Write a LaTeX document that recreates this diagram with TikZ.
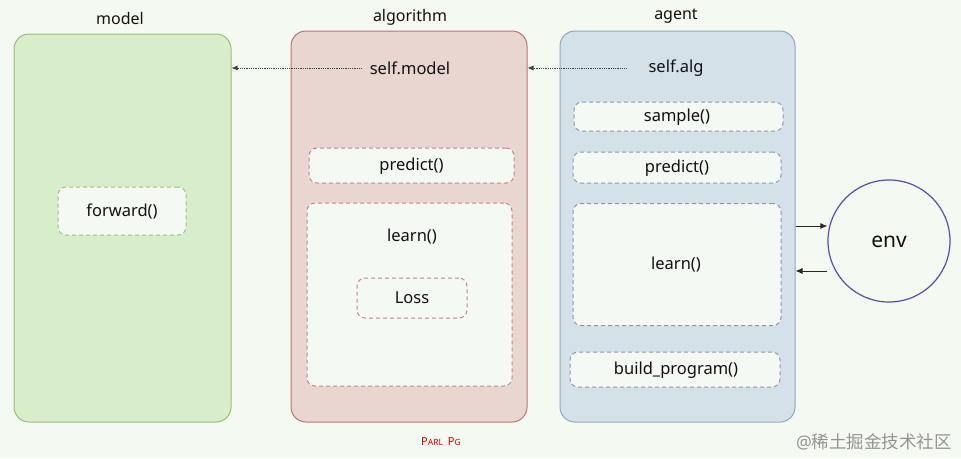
\documentclass[tikz,border=0pt]{standalone}
\usepackage{fontspec}
\setmainfont{Noto Sans}
\newfontfamily\cjkfont{Noto Sans CJK SC}
\usetikzlibrary{arrows.meta}
\definecolor{bgc}{HTML}{F4F9F1}
\definecolor{gfill}{HTML}{D8EECB}
\definecolor{gdraw}{HTML}{9DBB7A}
\definecolor{rfill}{HTML}{EAD6D1}
\definecolor{rdraw}{HTML}{B9737A}
\definecolor{bfill}{HTML}{D5E1E9}
\definecolor{bdraw}{HTML}{8FA8C2}
\definecolor{ifill}{HTML}{F5F9F3}
\definecolor{gdash}{HTML}{9CC08A}
\definecolor{rdash}{HTML}{C9838A}
\definecolor{bdash}{HTML}{8C99A8}
\definecolor{envc}{HTML}{5B4DB0}
\definecolor{txt}{HTML}{111111}
\tikzset{
  panel/.style={draw, line width=1pt, rounded corners=15pt, inner sep=0pt},
  inbox/.style={draw, dashed, dash pattern=on 4pt off 3pt, line width=1pt, fill=ifill, rounded corners=8pt, inner sep=0pt},
  lbl/.style={text=txt, font=\fontsize{16.5}{19}\selectfont, inner sep=0pt},
  ttl/.style={text=txt, font=\fontsize{16}{19}\selectfont, inner sep=0pt},
  dotarrow/.style={densely dotted, line width=0.8pt, draw=black!75, -{Latex[length=6pt,width=5pt]}},
  envarrow/.style={line width=0.9pt, draw=black!85, -{Latex[length=7pt,width=6pt]}}
}
\begin{document}
\begin{tikzpicture}[x=1pt,y=-1pt]
\fill[bgc] (0,0) rectangle (961,458);
\useasboundingbox (0,0) rectangle (961,458);

% panels
\node[panel, fill=gfill, draw=gdraw, minimum width=217pt, minimum height=388pt] (model) at (122.5,228) {};
\node[panel, fill=rfill, draw=rdraw, minimum width=236pt, minimum height=391pt] (alg) at (409,226.5) {};
\node[panel, fill=bfill, draw=bdraw, minimum width=235pt, minimum height=391pt] (agent) at (677.5,226.5) {};

% titles
\node[ttl] (tmodel) at (120,18) {model};
\node[ttl] (talg) at (410,17) {algorithm};
\node[ttl] (tagent) at (676,16) {agent};

% model contents
\node[inbox, draw=gdash, minimum width=128pt, minimum height=48pt] (forward) at (122,211) {};
\node[lbl] (tforward) at (122,211) {forward()};

% algorithm contents
\node[lbl] (selfmodel) at (410,68) {self.model};
\node[inbox, draw=rdash, minimum width=205pt, minimum height=35pt] (apredict) at (411.5,165.5) {};
\node[lbl] (tapredict) at (411.5,166) {predict()};
\node[inbox, draw=rdash, minimum width=205pt, minimum height=183pt] (alearn) at (409.5,294.5) {};
\node[lbl] (talearn) at (412,237) {learn()};
\node[inbox, draw=rdash, minimum width=110pt, minimum height=40pt] (loss) at (412,298) {};
\node[lbl] (tloss) at (412,298) {Loss};

% agent contents
\node[lbl] (selfalg) at (676,68) {self.alg};
\node[inbox, draw=bdash, minimum width=209pt, minimum height=29pt] (sample) at (678.5,116.5) {};
\node[lbl] (tsample) at (677,117) {sample()};
\node[inbox, draw=bdash, minimum width=208pt, minimum height=31pt] (gpredict) at (677,167.5) {};
\node[lbl] (tgpredict) at (677,168) {predict()};
\node[inbox, draw=bdash, minimum width=208pt, minimum height=122pt] (glearn) at (677,264.5) {};
\node[lbl] (tglearn) at (676,265) {learn()};
\node[inbox, draw=bdash, minimum width=210pt, minimum height=35pt] (build) at (675,369.5) {};
\node[lbl] (tbuild) at (676,370) {build\_program()};

% env
\node[circle, draw=envc, line width=1.2pt, fill=bgc, minimum size=122pt, inner sep=0pt] (env) at (889,241) {};
\node[lbl, font=\fontsize{21}{24}\selectfont] (tenv) at (889,242) {env};

% connectors
\draw[dotarrow] (selfmodel.west) ++(-8pt,0) -- (model.east |- selfmodel);
\draw[dotarrow] (selfalg.west) ++(-22pt,0) -- (alg.east |- selfalg);
\coordinate (o1) at (agent.east |- 0,226);
\coordinate (i1) at (env.west |- 0,226);
\coordinate (o2) at (agent.east |- 0,271);
\coordinate (i2) at (env.west |- 0,271);
\draw[envarrow] (o1) -- (i1);
\draw[envarrow] (i2) -- (o2);

% footer texts
\node[text=red!85!black, inner sep=0pt] (parl) at (441,442) {\fontsize{11}{12}\selectfont P\fontsize{8.5}{10}\selectfont ARL\hspace{5pt}\fontsize{11}{12}\selectfont P\fontsize{8.5}{10}\selectfont G};
\node[text=black!42, inner sep=0pt] (wm) at (874,442) {\fontsize{17.5}{20}\selectfont @\cjkfont 稀土掘金技术社区};
\end{tikzpicture}
\end{document}
